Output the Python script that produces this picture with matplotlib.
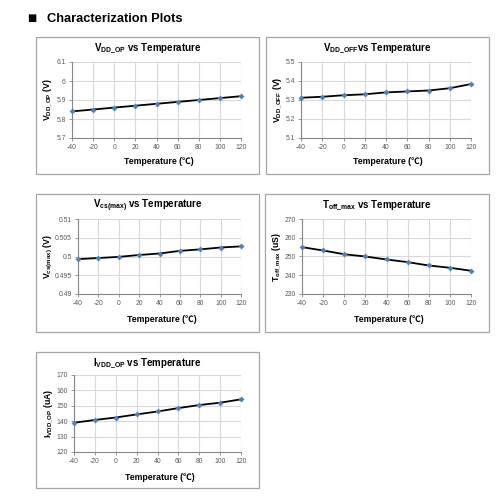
import matplotlib
matplotlib.use("Agg")
import matplotlib.pyplot as plt
from matplotlib.patches import Rectangle
from matplotlib.ticker import FuncFormatter

plt.rcParams['font.family'] = ['Liberation Sans', 'DejaVu Sans']
plt.rcParams['mathtext.fontset'] = 'custom'
plt.rcParams['mathtext.rm'] = 'Liberation Sans'
plt.rcParams['mathtext.bf'] = 'Liberation Sans:bold'
plt.rcParams['mathtext.it'] = 'Liberation Sans:italic'
plt.rcParams['axes.unicode_minus'] = False

# ---- data ----
temps = [-40, -20, 0, 20, 40, 60, 80, 100, 120]
vdd_op = [5.84, 5.85, 5.86, 5.87, 5.88, 5.89, 5.90, 5.91, 5.92]
vdd_off = [5.312, 5.317, 5.325, 5.330, 5.340, 5.345, 5.350, 5.362, 5.384]
vcs_max = [0.4993, 0.4996, 0.4999, 0.5004, 0.5008, 0.5015, 0.5019, 0.5024, 0.5027]
toff_max = [255.0, 253.2, 251.2, 250.0, 248.4, 247.0, 245.2, 244.0, 242.4]
ivdd_op = [139.0, 140.8, 142.4, 144.4, 146.3, 148.5, 150.5, 152.0, 154.2]

x_ticks = [-40, -20, 0, 20, 40, 60, 80, 100, 120]
yticks_vdd_op = [5.7, 5.8, 5.9, 6.0, 6.1]
yticks_vdd_off = [5.1, 5.2, 5.3, 5.4, 5.5]
yticks_vcs = [0.49, 0.495, 0.5, 0.505, 0.51]
yticks_toff = [230, 240, 250, 260, 270]
yticks_ivdd = [120, 130, 140, 150, 160, 170]

titles = [r'$\mathbf{V_{DD\_OP}}$ vs Temperature',
          r'$\mathbf{V_{DD\_OFF}}$vs Temperature',
          r'$\mathbf{V_{cs(max)}}$ vs Temperature',
          r'$\mathbf{T_{off\_max}}$ vs Temperature',
          r'$\mathbf{I_{VDD\_OP}}$ vs Temperature']
ylabels = [r'$\mathbf{V_{DD\_OP}}$ (V)',
           r'$\mathbf{V_{DD\_OFF}}$ (V)',
           r'$\mathbf{V_{cs(max)}}$ (V)',
           r'$\mathbf{T_{off\_max}}$ (uS)',
           r'$\mathbf{I_{VDD\_OP}}$ (uA)']
xlabel = 'Temperature (\u2103)'
header = 'Characterization Plots'

series = [vdd_op, vdd_off, vcs_max, toff_max, ivdd_op]
yticks = [yticks_vdd_op, yticks_vdd_off, yticks_vcs, yticks_toff, yticks_ivdd]

W, H = 502, 501
fig = plt.figure(figsize=(W / 100, H / 100), dpi=100)
fig.patch.set_facecolor('white')

def fx(x):
    return x / W

def fy(y):
    return 1 - y / H

# frame (l, t, r, b) and axes (l, t, r, b) in pixels
layout = [
    ((36, 37, 259, 174), (72, 62, 241, 138), 48),
    ((266, 37, 489, 174), (301, 62, 471, 138), 278),
    ((36, 194, 259, 332), (78, 219, 241, 294), 48),
    ((265, 194, 489, 332), (302, 219, 471, 294), 277),
    ((36, 352, 259, 488), (74, 375, 241, 452), 49),
]

fig.text(fx(27), fy(18), '\u25a0', fontsize=7, va='center', ha='left',
         family=['DejaVu Sans'])
fig.text(fx(47), fy(18.5), header, fontsize=9.3, fontweight='bold',
         va='center', ha='left')

def fmt(v, pos):
    s = ('%.3f' % v).rstrip('0').rstrip('.')
    return s

for i, (frame, ax_box, ylx) in enumerate(layout):
    fl, ft, fr, fb = frame
    fig.add_artist(Rectangle((fx(fl), fy(fb)), (fr - fl) / W, (fb - ft) / H,
                             transform=fig.transFigure, fill=False,
                             ec='#A6A6A6', lw=0.9))
    al, at, ar, ab = ax_box
    ax = fig.add_axes([fx(al), fy(ab), (ar - al) / W, (ab - at) / H])
    ax.plot(temps, series[i], color='black', lw=1.3, zorder=3, clip_on=False)
    ax.plot(temps, series[i], linestyle='none', marker='D', ms=3.0,
            mfc='#4F81BD', mec='#4F81BD', mew=0, zorder=4, clip_on=False)
    ax.set_xlim(x_ticks[0], x_ticks[-1])
    ax.set_ylim(yticks[i][0], yticks[i][-1])
    ax.set_xticks(x_ticks)
    ax.set_yticks(yticks[i])
    ax.yaxis.set_major_formatter(FuncFormatter(fmt))
    ax.grid(True, color='#D9D9D9', lw=0.8, zorder=0)
    ax.set_axisbelow(True)
    for s in ['top', 'right']:
        ax.spines[s].set_visible(False)
    for s in ['left', 'bottom']:
        ax.spines[s].set_color('#868686')
        ax.spines[s].set_linewidth(0.8)
    ax.tick_params(axis='both', labelsize=4.9, labelcolor='#595959',
                   color='#868686', length=2, width=0.6, pad=2.5)
    # title centered on frame
    fig.text(fx((fl + fr) / 2), fy(ft + 11.5), titles[i], fontsize=7,
             fontweight='bold', ha='center', va='center')
    # x label centered on axes
    fig.text(fx((al + ar) / 2 + 2), fy(ft + 125), xlabel, fontsize=6.3,
             fontweight='bold', ha='center', va='center',
             family=['Liberation Sans', 'Noto Sans CJK SC'])
    # y label
    fig.text(fx(ylx), fy((at + ab) / 2), ylabels[i], fontsize=6.3,
             fontweight='bold', ha='center', va='center', rotation=90)

fig.savefig('out.png', dpi=100, facecolor='white')
